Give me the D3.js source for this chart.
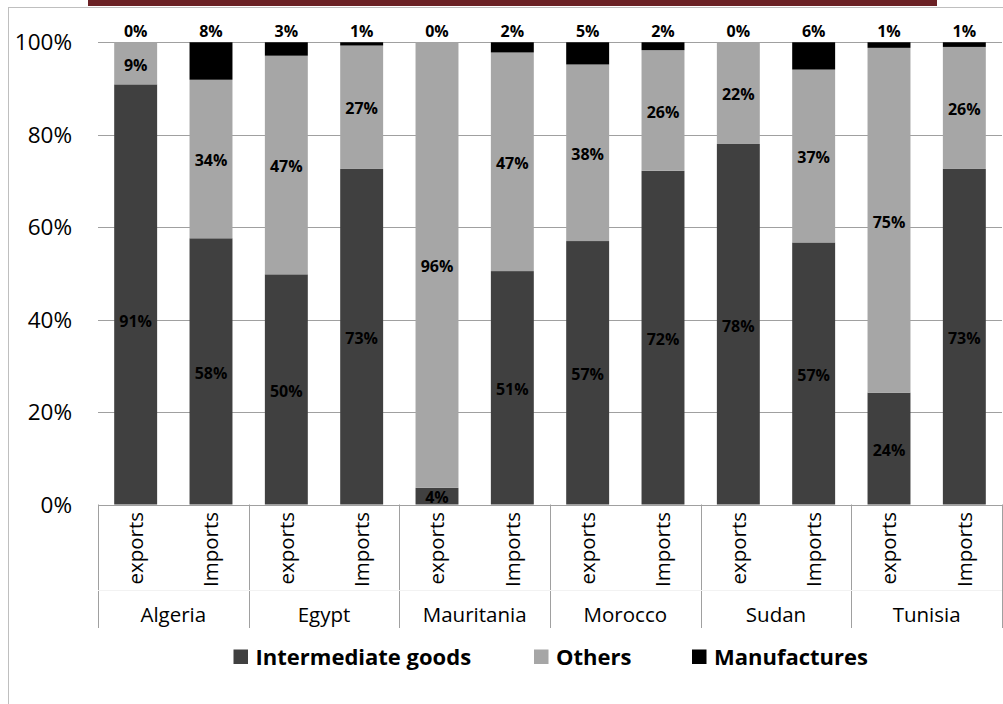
<!doctype html>
<html lang="en">
<head>
    <meta http-equiv="content-type" content="text/html; charset=utf-8" />
    <title>Trade composition</title>
    <style>
        html, body { margin: 0; padding: 0; background: #fff; }
        svg { display: block; font-family: "Open Sans", sans-serif; }
    </style>
</head>
<body>
    <svg id="chart"></svg>

    <script src="https://cdn.jsdelivr.net/npm/d3@7"></script>
    <script>
        // data (percent of each flow)
        const countries = ["Algeria", "Egypt", "Mauritania", "Morocco", "Sudan", "Tunisia"];
        const flows = ["exports", "Imports"];
        const seriesNames = ["Intermediate goods", "Others", "Manufactures"];
        const intermediate = [90.9, 57.6, 49.8, 72.6, 3.6, 50.5, 57.0, 72.2, 78.0, 56.7, 24.2, 72.6];
        const others       = [9.1, 34.3, 47.3, 26.7, 96.4, 47.3, 38.2, 26.1, 22.0, 37.4, 74.6, 26.4];
        const manufactures = [0.0, 8.1, 2.9, 0.7, 0.0, 2.2, 4.8, 1.7, 0.0, 5.9, 1.2, 1.0];
        const yTicks = [0, 20, 40, 60, 80, 100];

        const colors = ["#404040", "#a6a6a6", "#000000"];

        const width = 1003, height = 704;
        const margin = {left: 98, right: 1002, top: 42.3, bottom: 504.5};

        const svg = d3.select("#chart")
            .attr("width", width)
            .attr("height", height);

        // frame + red strip on top
        svg.append("rect")
            .attr("x", 8.5).attr("y", 7.5)
            .attr("width", 1010).attr("height", 720)
            .attr("fill", "none")
            .attr("stroke", "#bfbfbf");
        svg.append("rect")
            .attr("x", 88).attr("y", 0)
            .attr("width", 849).attr("height", 6)
            .attr("fill", "#6b2125");

        const rows = [];
        countries.forEach((c, i) => {
            flows.forEach((f, j) => {
                const k = i * 2 + j;
                rows.push({
                    key: c + "|" + f, country: c, flow: f,
                    "Intermediate goods": intermediate[k],
                    "Others": others[k],
                    "Manufactures": manufactures[k]
                });
            });
        });

        const x = d3.scaleBand()
            .domain(rows.map(d => d.key))
            .range([margin.left, margin.right])
            .paddingInner(0.43)
            .paddingOuter(0.215);
        const step = x.step();

        const y = d3.scaleLinear()
            .domain([0, 100])
            .range([margin.bottom, margin.top]);

        // gridlines
        svg.append("g")
            .selectAll("line")
            .data(yTicks)
            .join("line")
            .attr("x1", margin.left).attr("x2", margin.right)
            .attr("y1", d => Math.round(y(d)) + 0.5)
            .attr("y2", d => Math.round(y(d)) + 0.5)
            .attr("stroke", "#a0a0a0")
            .attr("stroke-width", 1);

        // y axis labels
        svg.append("g")
            .selectAll("text")
            .data(yTicks)
            .join("text")
            .attr("x", 72)
            .attr("y", d => y(d))
            .attr("dy", "0.36em")
            .attr("text-anchor", "end")
            .attr("font-size", 22.5)
            .attr("fill", "#000")
            .text(d => d + "%");

        const stacked = d3.stack().keys(seriesNames)(rows);

        const layer = svg.append("g")
            .selectAll("g")
            .data(stacked)
            .join("g")
            .attr("fill", (d, i) => colors[i]);

        layer.selectAll("rect")
            .data(d => d)
            .join("rect")
            .attr("x", d => x(d.data.key))
            .attr("width", x.bandwidth())
            .attr("y", d => y(d[1]))
            .attr("height", d => y(d[0]) - y(d[1]));

        // a label that was dragged in the original
        const nudge = {"Intermediate goods|Algeria|exports": 25};

        // data labels
        const labels = svg.append("g")
            .attr("font-size", 16)
            .attr("font-weight", "bold")
            .attr("text-anchor", "middle")
            .attr("fill", "#000");

        stacked.forEach(s => {
            labels.selectAll(null)
                .data(s)
                .join("text")
                .attr("x", d => x(d.data.key) + x.bandwidth() / 2)
                .attr("y", d => {
                    if (s.key === "Manufactures") return y(100) - 11;
                    return (y(d[0]) + y(d[1])) / 2 + 1.5 + (nudge[s.key + "|" + d.data.key] || 0);
                })
                .attr("dy", "0.36em")
                .text(d => Math.round(d.data[s.key]) + "%");
        });

        // multi-level category axis
        const axis = svg.append("g");
        const sepBottom = 628;
        const groupEdges = d3.range(countries.length + 1).map(i => margin.left + i * 2 * step);

        axis.selectAll("line.sep")
            .data(groupEdges)
            .join("line")
            .attr("class", "sep")
            .attr("x1", d => Math.round(d) + 0.5).attr("x2", d => Math.round(d) + 0.5)
            .attr("y1", margin.bottom).attr("y2", sepBottom)
            .attr("stroke", "#a0a0a0");

        axis.append("line")
            .attr("x1", margin.left).attr("x2", margin.right)
            .attr("y1", 590.5).attr("y2", 590.5)
            .attr("stroke", "#f2f2f2");

        axis.selectAll("text.flow")
            .data(rows)
            .join("text")
            .attr("class", "flow")
            .attr("transform", d => `translate(${x(d.key) + x.bandwidth() / 2},512) rotate(-90)`)
            .attr("text-anchor", "end")
            .attr("dy", "0.36em")
            .attr("font-size", 20.5)
            .attr("fill", "#000")
            .text(d => d.flow);

        axis.selectAll("text.country")
            .data(countries)
            .join("text")
            .attr("class", "country")
            .attr("x", (d, i) => groupEdges[i] + step)
            .attr("y", 615)
            .attr("dy", "0.36em")
            .attr("text-anchor", "middle")
            .attr("font-size", 20.5)
            .attr("fill", "#000")
            .text(d => d);

        // legend
        const legendX = [233.5, 534, 692];
        const legend = svg.append("g")
            .selectAll("g")
            .data(seriesNames)
            .join("g")
            .attr("transform", (d, i) => `translate(${legendX[i]},657)`);

        legend.append("rect")
            .attr("x", 0).attr("y", -7.5)
            .attr("width", 14.5).attr("height", 14.5)
            .attr("fill", (d, i) => colors[i]);

        legend.append("text")
            .attr("x", 22)
            .attr("dy", "0.36em")
            .attr("font-size", 22)
            .attr("font-weight", "bold")
            .attr("fill", "#000")
            .text(d => d);
    </script>
</body>
</html>
